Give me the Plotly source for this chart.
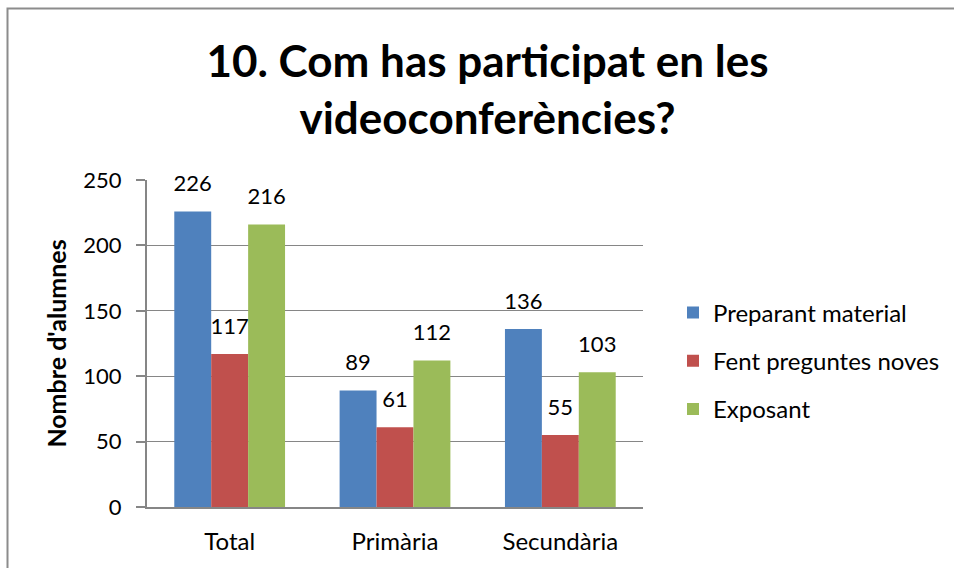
import plotly.graph_objects as go

categories = ["Total", "Primària", "Secundària"]
series_names = ["Preparant material", "Fent preguntes noves", "Exposant"]
preparant = [226, 89, 136]
preguntes = [117, 61, 55]
exposant = [216, 112, 103]
colors = ["#4F81BD", "#C0504D", "#9BBB59"]
y_ticks = [0, 50, 100, 150, 200, 250]

FONT = "Lato, 'Open Sans', sans-serif"

fig = go.Figure()
all_vals = [preparant, preguntes, exposant]
for i, (name, vals) in enumerate(zip(series_names, all_vals)):
    fig.add_trace(go.Bar(
        x=categories, y=vals, name=name,
        marker=dict(color=colors[i], line=dict(width=0)),
        offsetgroup=f"g{i}", legendgroup=f"g{i}",
    ))
for i, (name, vals) in enumerate(zip(series_names, all_vals)):
    fig.add_trace(go.Scatter(
        x=categories, y=vals, mode="markers+text",
        text=[str(v) for v in vals], textposition="top center",
        textfont=dict(size=22, color="#000000", family=FONT),
        marker=dict(size=22, opacity=0, color="rgba(0,0,0,0)"),
        offsetgroup=f"g{i}", showlegend=False, hoverinfo="skip",
        cliponaxis=False,
    ))

W, H = 954, 568
L, R, T, B = 147, 311, 180, 61
pw = W - L - R
ph = H - T - B

def px_to_paper_x(px):
    return (px - L) / pw

def px_to_paper_y(py):
    return (H - B - py) / ph

fig.update_layout(
    width=W, height=H,
    margin=dict(l=L, r=R, t=T, b=B, autoexpand=False),
    paper_bgcolor="white", plot_bgcolor="white",
    barmode="group", scattermode="group", bargap=0.33, bargroupgap=0,
    font=dict(family=FONT, size=22, color="#000000"),
    title=dict(
        text="<b>10. Com has participat en les<br>videoconferències?</b>",
        x=0.511, xanchor="center", y=1 - 77 / H, yanchor="middle",
        font=dict(size=44, family=FONT, color="#000000"),
    ),
    xaxis=dict(
        showline=True, linecolor="#868686", linewidth=2,
        ticks="", tickfont=dict(size=24, family=FONT),
        ticklabelstandoff=12,
        showgrid=False,
    ),
    yaxis=dict(
        range=[0, 250], tickvals=y_ticks, ticktext=[str(v) for v in y_ticks],
        showline=True, linecolor="#868686", linewidth=2,
        ticks="outside", ticklen=9, tickcolor="#868686", tickwidth=1.5,
        ticklabelstandoff=10,
        showgrid=True, gridcolor="#868686", gridwidth=1.3,
        tickfont=dict(size=22, family=FONT),
        title=dict(text="<b>Nombre d'alumnes</b>", font=dict(size=25, family=FONT), standoff=10),
        zeroline=False,
    ),
    legend=dict(
        x=px_to_paper_x(673), xanchor="left",
        y=px_to_paper_y(361), yanchor="middle",
        font=dict(size=24, family=FONT), tracegroupgap=14,
        itemwidth=30, bgcolor="rgba(0,0,0,0)",
    ),
    showlegend=True,
)

# Chart frame
fig.add_shape(
    type="rect", xref="paper", yref="paper",
    x0=px_to_paper_x(7.5), x1=px_to_paper_x(W + 40),
    y0=px_to_paper_y(H + 40), y1=px_to_paper_y(8.5),
    line=dict(color="#8C8C8C", width=2), fillcolor="rgba(0,0,0,0)", layer="below",
)

fig.write_html(
    "out.html",
    config={"displayModeBar": False},
    post_script="document.body.style.margin='0';document.body.style.overflow='hidden';",
)
